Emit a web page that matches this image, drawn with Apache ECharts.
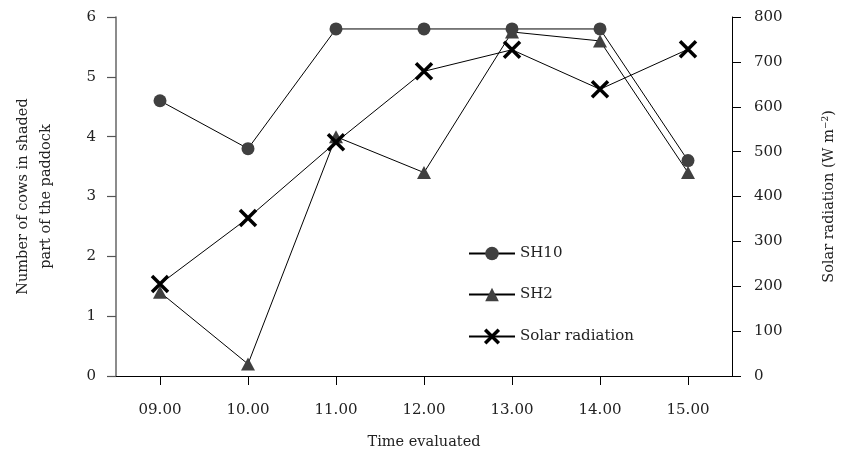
<!DOCTYPE html>
<html>
<head>
<meta charset="utf-8">
<script src="https://cdn.jsdelivr.net/npm/echarts@6/dist/echarts.min.js"></script>
<style>
    html, body { margin: 0; padding: 0; background: #fff; overflow: hidden; }
    #chart { width: 100vw; height: 100vh; }
</style>
</head>
<body>
<div id="chart"></div>
<script>
    // time of day along the x axis
    const times = ['09.00', '10.00', '11.00', '12.00', '13.00', '14.00', '15.00']
    // cows in shaded part of paddock
    const sh10 = [4.6, 3.8, 5.8, 5.8, 5.8, 5.8, 3.6]
    const sh2 = [1.4, 0.2, 4.0, 3.4, 5.75, 5.6, 3.4]
    // solar radiation, W m-2
    const solar = [205, 352, 521, 679, 727, 639, 728]

    const font = 'DejaVu Serif'
    const textColor = '#222'
    const crossPath = 'path://M0,0L10,10M10,0L0,10'

    const axisCommon = {
        axisLine: { show: true, lineStyle: { color: '#000', width: 1 } },
        axisTick: { show: true, length: 9, lineStyle: { color: '#000' } },
        splitLine: { show: false },
        axisLabel: { color: textColor, fontFamily: font, fontSize: 15, margin: 20 },
        nameTextStyle: { color: textColor, fontFamily: font, fontSize: 14.5 }
    }

    const chart = echarts.init(document.getElementById('chart'))
    chart.setOption({
        animation: false,
        textStyle: { fontFamily: font },
        grid: { left: 116, right: 108, top: 17, bottom: 75, containLabel: false },
        legend: {
            orient: 'vertical',
            left: 463,
            top: 241,
            itemWidth: 46,
            itemHeight: 17,
            itemGap: 26,
            textStyle: { color: textColor, fontFamily: font, fontSize: 15 },
            data: [
                { name: 'SH10' },
                { name: 'SH2' },
                { name: 'Solar radiation', itemStyle: { borderWidth: 3.5, borderColor: '#000' } }
            ]
        },
        xAxis: Object.assign({}, axisCommon, {
            type: 'category',
            data: times,
            boundaryGap: true,
            axisTick: { show: true, alignWithLabel: true, length: 9, lineStyle: { color: '#000' } },
            axisLabel: Object.assign({}, axisCommon.axisLabel, { margin: 27 }),
            name: 'Time evaluated',
            nameLocation: 'middle',
            nameGap: 59
        }),
        yAxis: [
            Object.assign({}, axisCommon, {
                type: 'value',
                min: 0, max: 6, interval: 1,
                axisLine: { show: true, lineStyle: { color: '#666', width: 1.5 } },
                axisTick: { show: true, length: 9, lineStyle: { color: '#555', width: 1.2 } },
                name: 'Number of cows in shaded\npart of the paddock',
                nameLocation: 'middle',
                nameGap: 58,
                nameTextStyle: Object.assign({}, axisCommon.nameTextStyle, { lineHeight: 23 })
            }),
            Object.assign({}, axisCommon, {
                type: 'value',
                position: 'right',
                min: 0, max: 800, interval: 100,
                axisLabel: Object.assign({}, axisCommon.axisLabel, { margin: 22 }),
                name: 'Solar radiation (W m{sup|−2})',
                nameLocation: 'middle',
                nameGap: 89,
                nameRotate: 90,
                nameTextStyle: Object.assign({}, axisCommon.nameTextStyle, {
                    rich: { sup: { fontFamily: font, fontSize: 9, color: textColor, verticalAlign: 'top', padding: [0, 0, 8, 0] } }
                })
            })
        ],
        series: [
            {
                name: 'SH10', type: 'line', yAxisIndex: 0, data: sh10,
                symbol: 'circle', symbolSize: 13,
                itemStyle: { color: '#404040' },
                lineStyle: { color: '#000', width: 1 },
                z: 3
            },
            {
                name: 'SH2', type: 'line', yAxisIndex: 0, data: sh2,
                symbol: 'triangle', symbolSize: [14, 13],
                itemStyle: { color: '#404040' },
                lineStyle: { color: '#000', width: 1 },
                z: 2
            },
            {
                name: 'Solar radiation', type: 'line', yAxisIndex: 1, data: solar,
                symbol: crossPath, symbolSize: 16,
                itemStyle: { color: '#000', borderColor: '#000', borderWidth: 3.5 },
                lineStyle: { color: '#000', width: 1 },
                z: 4
            }
        ]
    })
</script>
</body>
</html>
